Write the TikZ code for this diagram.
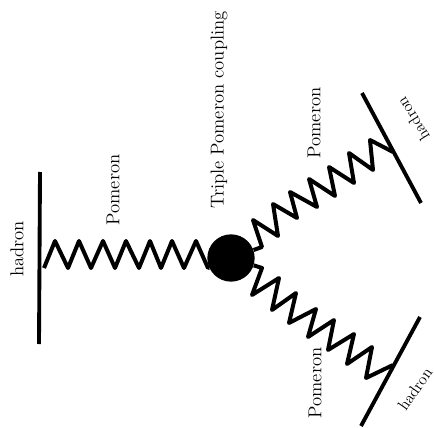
\documentclass[tikz,border=0pt]{standalone}
\tikzset{
  pomeron/.style={line width=3pt,line join=round},
  hadline/.style={line width=2.9pt},
  lab/.style={font=\fontsize{14}{14}\selectfont,inner sep=0pt},
  labsmall/.style={font=\fontsize{12}{12}\selectfont,inner sep=0pt},
}
\begin{document}
\begin{tikzpicture}[x=0.75pt,y=-0.75pt]
  \useasboundingbox (0,0) rectangle (434,427);
  % hadron lines
  \coordinate (hadLa) at (40,172);
  \coordinate (hadLb) at (39,344);
  \coordinate (hadUa) at (362,93);
  \coordinate (hadUb) at (421,203);
  \coordinate (hadDa) at (420,317);
  \coordinate (hadDb) at (361,426);
  \draw[hadline] (hadLa) -- (hadLb);
  \draw[hadline] (hadUa) -- (hadUb);
  \draw[hadline] (hadDa) -- (hadDb);
  % vertex
  \node[circle,fill=black,minimum size=35.5pt,inner sep=0pt] (vertex) at (231,258) {};
  % ends of the springs on the hadrons
  \coordinate (endL) at (44,268);
  \coordinate (endU) at (393,152);
  \coordinate (endD) at (393,365);
  \draw[pomeron] (endL) -- (55,241) -- (68,268) -- (79,241) -- (91,268) -- (103,241) -- (115,268)
    -- (126,241) -- (139,268) -- (150,241) -- (161,268) -- (172,241) -- (184,268) -- (196,241)
    -- (208,268) -- (vertex);
  \draw[pomeron] (vertex) -- (262,247) -- (253,220) -- (278,236) -- (273,204) -- (297,218)
    -- (290,192) -- (317,207) -- (309,179) -- (335,196) -- (329,167) -- (354,183) -- (349,153)
    -- (373,170) -- (370,140) -- (endU);
  \draw[pomeron] (vertex) -- (262,268) -- (252,295) -- (279,278) -- (272,310) -- (296,293)
    -- (289,323) -- (316,309) -- (308,337) -- (334,320) -- (328,350) -- (354,334) -- (347,364)
    -- (372,347) -- (366,378) -- (endD);
  % labels
  \node[lab,rotate=90] (hadL) at (17,249) {hadron};
  \node[labsmall,rotate=122] (hadU) at (413,119) {hadron};
  \node[labsmall,rotate=55] (hadD) at (415,389) {hadron};
  \node[lab,rotate=90] (pomL) at (113,190) {Pomeron};
  \node[lab,rotate=90] (pomU) at (314,123) {Pomeron};
  \node[lab,rotate=90] (pomD) at (315,383) {Pomeron};
  \node[lab,rotate=90] (triple) at (219,110) {Triple Pomeron coupling};
\end{tikzpicture}
\end{document}
